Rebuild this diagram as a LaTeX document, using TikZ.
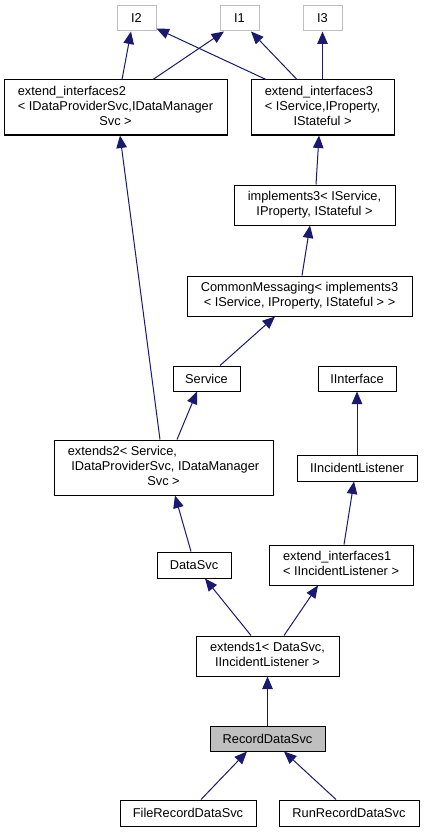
\documentclass[tikz,border=0pt]{standalone}
\usepackage{fontspec}
\setmainfont{Liberation Sans}
\usetikzlibrary{arrows.meta}
\definecolor{doxyblue}{HTML}{191970}
\definecolor{doxygray}{HTML}{BFBFBF}
\newcommand{\doxlbl}[2]{\begin{tabular}{@{}l@{}}#1\\\multicolumn{1}{@{}c@{}}{#2}\end{tabular}}

\begin{document}
\begin{tikzpicture}[x=1pt, y=-1pt,
    box/.style={draw, line width=1pt, inner sep=0pt, font=\fontsize{12.8}{15.4}\selectfont},
    ifacebox/.style={box, draw=doxygray},
    edge/.style={draw=doxyblue, line width=1pt, -{Triangle[width=10.5pt,length=12.5pt]}}
]
    \useasboundingbox (0,0) rectangle (424,832);

    \node [ifacebox, minimum width=39, minimum height=25] (I2) at (136.5,18.5) {I2};
    \node [ifacebox, minimum width=39, minimum height=25] (I1) at (239.5,18.5) {I1};
    \node [ifacebox, minimum width=39, minimum height=25] (I3) at (322.5,18.5) {I3};

    \node [box, minimum width=223, minimum height=55] (ei2) at (115.5,107.5)
        {\doxlbl{extend\_interfaces2\\< IDataProviderSvc,IDataManager}{Svc >}};
    \node [box, minimum width=143, minimum height=55] (ei3) at (322.5,107.5)
        {\doxlbl{extend\_interfaces3\\< IService,IProperty,}{IStateful >}};
    \node [box, minimum width=161, minimum height=40] (impl3) at (314.5,205)
        {\doxlbl{implements3< IService,}{IProperty, IStateful >}};
    \node [box, minimum width=225, minimum height=40] (cmsg) at (299.5,296)
        {\doxlbl{CommonMessaging< implements3}{< IService, IProperty, IStateful > >}};
    \node [box, minimum width=67, minimum height=25] (svc) at (206.5,378.5) {Service};
    \node [box, minimum width=78, minimum height=25] (iint) at (357,378.5) {IInterface};
    \node [box, minimum width=219, minimum height=55] (ext2) at (163.5,467.5)
        {\doxlbl{extends2< Service,\\\ IDataProviderSvc, IDataManager}{Svc >}};
    \node [box, minimum width=120, minimum height=26] (iinc) at (357,468) {IIncidentListener};
    \node [box, minimum width=74, minimum height=26] (dsvc) at (194,565) {DataSvc};
    \node [box, minimum width=144, minimum height=40] (ei1) at (341,565)
        {\doxlbl{extend\_interfaces1}{< IIncidentListener >}};
    \node [box, minimum width=143, minimum height=40] (ext1) at (267.5,656)
        {\doxlbl{extends1< DataSvc,}{IIncidentListener >}};
    \node [box, fill=doxygray, minimum width=115, minimum height=25] (rds) at (267.5,738.5) {RecordDataSvc};
    \node [box, minimum width=136, minimum height=26] (frds) at (188,813) {FileRecordDataSvc};
    \node [box, minimum width=140, minimum height=26] (rrds) at (349,813) {RunRecordDataSvc};

    \draw [edge] ([xshift=6.5]ei2.north) -- ([xshift=-5.5]I2.south);
    \draw [edge] ([xshift=37.5]ei2.north) -- ([xshift=-15.5]I1.south);
    \draw [edge] ([xshift=-56.5]ei3.north) -- ([yshift=3]I2.south east);
    \draw [edge] ([xshift=-25.5]ei3.north) -- ([xshift=11.5]I1.south);
    \draw [edge] (ei3.north) -- (I3.south);
    \draw [edge] ([xshift=1.5]impl3.north) -- ([xshift=-3.5]ei3.south);
    \draw [edge] ([xshift=2.5]cmsg.north) -- ([xshift=-4.5]impl3.south);
    \draw [edge] ([xshift=13.5]svc.north) -- ([xshift=-24.5]cmsg.south);
    \draw [edge] ([xshift=-3.5]ext2.north) -- ([xshift=4.5]ei2.south);
    \draw [edge] ([xshift=13.5]ext2.north) -- ([xshift=-9.5]svc.south);
    \draw [edge] (iinc.north) -- (iint.south);
    \draw [edge] ([xshift=-3]dsvc.north) -- ([xshift=11.5]ext2.south);
    \draw [edge] ([xshift=3]ei1.north) -- ([xshift=-3]iinc.south);
    \draw [edge] ([xshift=-16.5]ext1.north) -- ([xshift=11]dsvc.south);
    \draw [edge] ([xshift=16.5]ext1.north) -- ([xshift=-23]ei1.south);
    \draw [edge] (rds.north) -- (ext1.south);
    \draw [edge] ([xshift=13]frds.north) -- ([xshift=-20.5]rds.south);
    \draw [edge] ([xshift=-13]rrds.north) -- ([xshift=16.5]rds.south);

\end{tikzpicture}
\end{document}
